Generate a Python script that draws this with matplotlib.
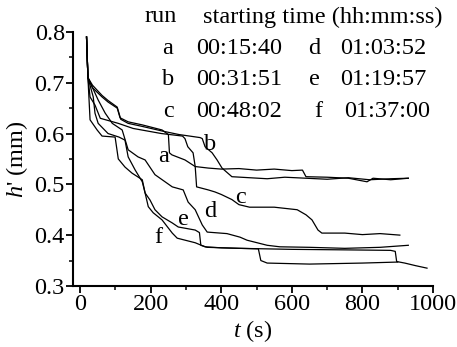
import matplotlib
matplotlib.use("Agg")
import matplotlib.pyplot as plt
from matplotlib.ticker import MultipleLocator

plt.rcParams["font.family"] = ["Liberation Serif", "DejaVu Serif"]
plt.rcParams["mathtext.fontset"] = "custom"
plt.rcParams["mathtext.rm"] = "Liberation Serif"
plt.rcParams["mathtext.it"] = "Liberation Serif:italic"

# run curves: time (s) and h' (mm)
t_a = [18, 22, 35, 62, 79, 105, 113, 136, 176, 232, 250, 253, 260, 297, 326, 363, 400,
       450, 500, 550, 600, 630, 640, 700, 760, 813, 830, 880, 930]
h_a = [0.79, 0.71, 0.69, 0.672, 0.662, 0.65, 0.631, 0.623, 0.617, 0.607, 0.598, 0.562, 0.558,
       0.548, 0.535, 0.532, 0.530, 0.531, 0.528, 0.530, 0.527, 0.528, 0.515, 0.514, 0.512,
       0.505, 0.512, 0.509, 0.512]

t_b = [18, 22, 35, 62, 79, 105, 115, 136, 176, 232, 280, 340, 346, 354, 374, 388, 402, 430,
       480, 530, 580, 640, 700, 760, 820, 880, 930]
h_b = [0.79, 0.71, 0.695, 0.675, 0.665, 0.652, 0.628, 0.62, 0.614, 0.605, 0.598, 0.592, 0.59,
       0.574, 0.562, 0.548, 0.532, 0.515, 0.513, 0.511, 0.514, 0.512, 0.51, 0.513, 0.509,
       0.511, 0.512]

t_c = [18, 22, 28, 42, 57, 108, 150, 230, 290, 297, 305, 320, 326, 330, 363, 382, 400, 430,
       450, 480, 550, 615, 640, 657, 674, 685, 750, 800, 850, 906]
h_c = [0.79, 0.71, 0.672, 0.656, 0.63, 0.62, 0.61, 0.60, 0.595, 0.59, 0.574, 0.562, 0.535,
       0.495, 0.489, 0.485, 0.48, 0.47, 0.46, 0.455, 0.455, 0.45, 0.44, 0.43, 0.41, 0.404,
       0.404, 0.401, 0.403, 0.40]

t_d = [18, 22, 51, 71, 91, 119, 136, 164, 184, 212, 261, 292, 306, 326, 346, 360, 416, 453,
       473, 530, 566, 650, 750, 850, 930]
h_d = [0.79, 0.71, 0.666, 0.64, 0.62, 0.607, 0.568, 0.554, 0.548, 0.519, 0.495, 0.489,
       0.465, 0.45, 0.42, 0.406, 0.403, 0.396, 0.39, 0.38, 0.377, 0.376, 0.374, 0.376, 0.38]

t_e = [18, 22, 28, 48, 62, 99, 108, 127, 147, 176, 184, 198, 212, 232, 261, 278, 326, 338,
       342, 360, 450, 600, 750, 880, 893, 897, 920, 950, 983]
h_e = [0.79, 0.71, 0.627, 0.607, 0.595, 0.593, 0.55, 0.534, 0.522, 0.509, 0.483, 0.469,
       0.45, 0.436, 0.424, 0.416, 0.41, 0.405, 0.38, 0.376, 0.374, 0.372, 0.371, 0.37, 0.368,
       0.348, 0.345, 0.34, 0.335]

t_f = [18, 22, 37, 42, 51, 79, 110, 127, 136, 156, 176, 184, 193, 207, 232, 261, 275, 326,
       354, 400, 505, 512, 530, 650, 800, 900]
h_f = [0.79, 0.71, 0.672, 0.64, 0.62, 0.60, 0.593, 0.587, 0.554, 0.528, 0.505, 0.483,
       0.456, 0.444, 0.43, 0.404, 0.394, 0.385, 0.377, 0.375, 0.373, 0.35, 0.345, 0.343,
       0.345, 0.347]

runs = ["a", "b", "c", "d", "e", "f"]
start_times = ["00:15:40", "00:31:51", "00:48:02", "01:03:52", "01:19:57", "01:37:00"]
curve_labels = {"a": (235, 0.554), "b": (368, 0.578), "c": (453, 0.474),
                "d": (368, 0.446), "e": (292, 0.43), "f": (221, 0.396)}

FS = 17.5

fig = plt.figure(figsize=(4.57, 3.47), dpi=100)
ax = fig.add_axes([0.16, 0.176, 0.7875, 0.732])

for t, h in [(t_a, h_a), (t_b, h_b), (t_c, h_c), (t_d, h_d), (t_e, h_e), (t_f, h_f)]:
    ax.plot(t, h, color="black", lw=0.9)

for name, (x, y) in curve_labels.items():
    ax.text(x, y, name, fontsize=FS, ha="center", va="center")

ax.set_xlim(-20, 1000)
ax.set_ylim(0.3, 0.8)
ax.xaxis.set_major_locator(MultipleLocator(200))
ax.xaxis.set_minor_locator(MultipleLocator(100))
ax.yaxis.set_major_locator(MultipleLocator(0.1))
ax.yaxis.set_minor_locator(MultipleLocator(0.05))
ax.spines[["top", "right"]].set_visible(False)
for s in ["left", "bottom"]:
    ax.spines[s].set_linewidth(1.5)
ax.tick_params(which="major", direction="out", length=5, width=1.3, labelsize=FS, pad=1)
ax.tick_params(which="minor", direction="out", length=3, width=1.1)
ax.set_xlabel(r"$t$ (s)", fontsize=FS, labelpad=2)
ax.set_ylabel(r"$h$' (mm)", fontsize=FS, labelpad=3)

# run / starting-time table at the top (last row sits a little to the right)
fig.text(161 / 457, 1 - 17 / 347, "run", fontsize=FS, ha="center", va="center")
fig.text(323 / 457, 1 - 17 / 347, "starting time (hh:mm:ss)", fontsize=FS, ha="center", va="center")
for i in range(3):
    y = 1 - (48 + 31.5 * i) / 347
    dx = 4 if i == 2 else 0
    fig.text(168 / 457, y, runs[i], fontsize=FS, ha="center", va="center")
    fig.text(239 / 457, y, start_times[i], fontsize=FS, ha="center", va="center")
    fig.text((314 + dx) / 457, y, runs[i + 3], fontsize=FS, ha="center", va="center")
    fig.text((383 + dx) / 457, y, start_times[i + 3], fontsize=FS, ha="center", va="center")

fig.savefig("out.png", dpi=100)
